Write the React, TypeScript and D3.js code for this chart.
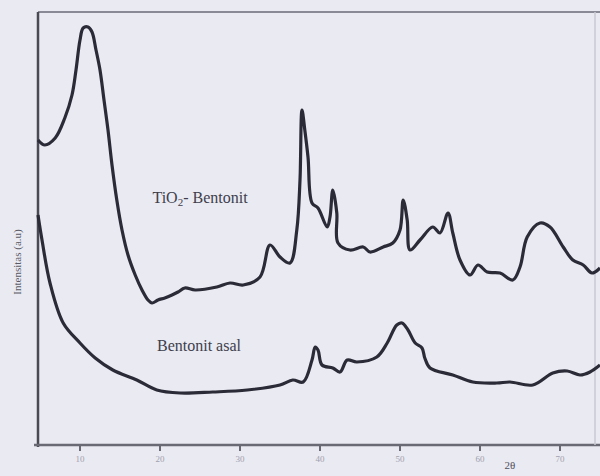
import React from "react";
import * as d3 from "d3";

// TiO2-Bentonit (upper trace)
const tiX = [4.75, 5.6, 6.9, 8.1, 9.0, 9.5, 10.0, 10.4, 11.0, 11.5, 12.0, 12.5, 13.0, 13.5, 14.0, 14.6, 15.25, 16.0, 16.9, 17.75, 18.5, 19.0, 19.75, 20.6, 21.5, 22.25, 23.1, 24.4, 27.1, 28.75, 30.4, 32.5, 33.75, 35.0, 36.25, 37.1, 37.5, 37.75, 38.1, 38.5, 39.0, 39.75, 40.9, 41.25, 41.6, 42.1, 42.25, 43.75, 45.4, 46.25, 47.9, 49.1, 50.0, 50.4, 50.9, 51.25, 52.5, 54.1, 55.0, 56.0, 56.6, 57.5, 58.75, 59.75, 60.9, 62.5, 64.1, 65.0, 65.9, 67.5, 68.75, 70.4, 71.6, 72.9, 74.0, 75.0];
const tiY = [305, 300, 307, 327, 350, 375, 405, 417, 418, 413, 395, 375, 345, 315, 280, 245, 215, 190, 170, 155, 145, 142, 145, 147, 150, 153, 157, 155, 158, 162, 160, 168, 200, 188, 182, 215, 265, 335, 315, 288, 242, 237, 218, 228, 255, 232, 202, 195, 198, 193, 198, 202, 215, 245, 225, 195, 205, 218, 212, 232, 212, 185, 170, 180, 173, 172, 165, 178, 208, 222, 218, 198, 185, 180, 172, 177];

// Bentonit asal (lower trace)
const beX = [4.75, 5.25, 6.25, 7.9, 10.0, 11.9, 14.1, 17.1, 19.6, 22.5, 26.6, 30.9, 35.0, 36.6, 37.9, 39.0, 39.4, 39.75, 40.25, 41.6, 42.5, 43.4, 44.6, 47.1, 48.4, 49.6, 50.25, 51.0, 51.9, 52.75, 53.1, 53.75, 56.6, 59.1, 62.1, 63.75, 66.6, 69.1, 70.9, 72.5, 73.75, 75.0];
const beY = [230, 205, 162, 122, 102, 87, 75, 65, 55, 52, 53, 55, 60, 65, 63, 85, 98, 95, 80, 77, 73, 85, 83, 88, 102, 120, 122, 115, 102, 97, 87, 77, 70, 63, 62, 63, 60, 72, 74, 70, 73, 80];

const xTicks = [10, 20, 30, 40, 50, 60, 70];
const xTickLabels = ["10", "20", "30", "40", "50", "60", "70"];

const W = 600, H = 476;
const left = 38, top = 12, bottom = 445;

export default function App() {
  const x = d3.scaleLinear().domain([5, 75]).range([40, 600]);
  const y = d3.scaleLinear().domain([0, 433]).range([bottom, top]);

  const line = d3.line<[number, number]>()
    .x(d => x(d[0]))
    .y(d => y(d[1]))
    .curve(d3.curveCatmullRom.alpha(0.5));

  const tiPts = tiX.map((v, i) => [v, tiY[i]] as [number, number]);
  const bePts = beX.map((v, i) => [v, beY[i]] as [number, number]);

  return (
    <svg width={W} height={H} style={{position: "absolute", left: 0, top: 0}}
         fontFamily="'Liberation Serif', 'DejaVu Serif', serif">
      <rect width={W} height={H} fill="#eaeaf2"/>
      {/* frame */}
      <line x1={left} y1={top} x2={W} y2={top} stroke="#8a8a96" strokeWidth={2}/>
      <line x1={left} y1={top} x2={left} y2={bottom + 2} stroke="#4a4a55" strokeWidth={2.5}/>
      <line x1={left - 4} y1={bottom} x2={W} y2={bottom} stroke="#6a6a75" strokeWidth={2.5}/>
      <line x1={595} y1={top} x2={595} y2={bottom} stroke="#c8c8d4" strokeWidth={1.5}/>
      {xTicks.map((t, i) => (
        <g key={t}>
          <line x1={x(t)} y1={bottom} x2={x(t)} y2={bottom + 6} stroke="#6a6a75" strokeWidth={2}/>
          <text x={x(t)} y={bottom + 17} fontSize={9} textAnchor="middle" fill="#a0a0ac">{xTickLabels[i]}</text>
        </g>
      ))}
      <text x={510} y={469} fontSize={11} textAnchor="middle" fill="#50505c">2θ</text>
      <text transform="translate(21,262) rotate(-90)" fontSize={11} textAnchor="middle" fill="#5a5a66">Intensitas (a.u)</text>

      <path d={line(tiPts) ?? ""} fill="none" stroke="#2b2b38" strokeWidth={3.2} strokeLinejoin="round"/>
      <path d={line(bePts) ?? ""} fill="none" stroke="#2b2b38" strokeWidth={3.2} strokeLinejoin="round"/>

      <text x={200} y={203} fontSize={16} textAnchor="middle" fill="#3e3e4c">TiO<tspan fontSize={11} dy={3}>2</tspan><tspan dy={-3}>- Bentonit</tspan></text>
      <text x={199} y={351} fontSize={16} textAnchor="middle" fill="#3e3e4c">Bentonit asal</text>
    </svg>
  );
}
